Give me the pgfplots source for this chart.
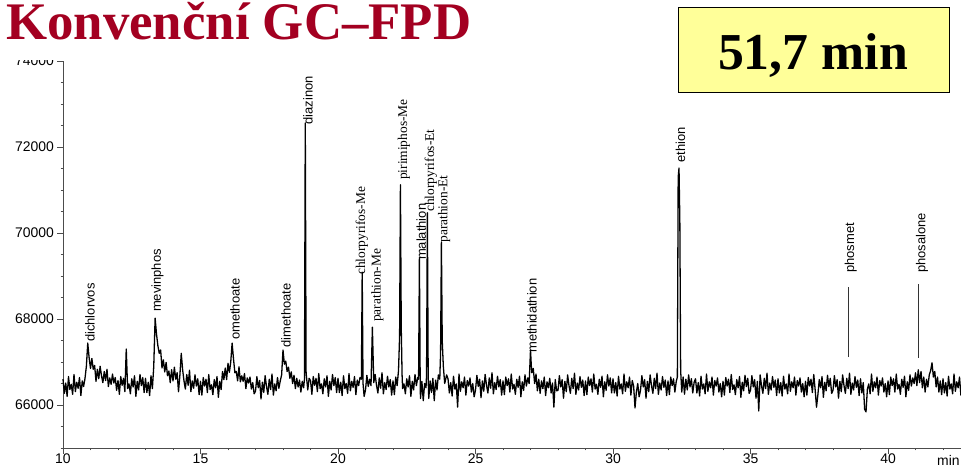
\documentclass[border=0pt]{standalone}
\usepackage{fontspec}
\setmainfont{Liberation Sans}
\newfontfamily\timesfont{Liberation Serif}
\usepackage{pgfplots}
\usepackage{pgfplotstable}
\pgfplotsset{compat=1.18}
\definecolor{titlered}{RGB}{163,0,33}
\definecolor{boxyellow}{RGB}{255,255,153}

% detector signal (time in min, response)
\pgfplotstableread[row sep=\\]{
t s\\
10.00 66600\\ 10.05 66270\\ 10.10 66510\\ 10.15 66200\\ 10.20 66660\\ 10.25 66360\\ 10.30 66480\\ 10.35 66250\\ 10.40 66710\\ 10.45 66310\\
10.50 66530\\ 10.55 66390\\ 10.60 66640\\ 10.65 66220\\ 10.70 66560\\ 10.75 66430\\ 10.80 66620\\ 10.85 66900\\ 10.90 67440\\ 10.95 67100\\
11.00 66850\\ 11.05 67080\\ 11.10 66830\\ 11.15 66920\\ 11.20 66550\\ 11.25 66830\\ 11.30 66610\\ 11.35 66900\\ 11.40 66680\\ 11.45 66520\\
11.50 66780\\ 11.55 66570\\ 11.60 66830\\ 11.65 66430\\ 11.70 66630\\ 11.75 66480\\ 11.80 66720\\ 11.85 66510\\ 11.90 66640\\ 11.95 66340\\
12.00 66570\\ 12.05 66250\\ 12.10 66660\\ 12.15 66460\\ 12.20 66620\\ 12.25 66310\\ 12.30 67300\\ 12.35 66380\\ 12.40 66490\\ 12.45 66260\\
12.50 66610\\ 12.55 66420\\ 12.60 66680\\ 12.65 66200\\ 12.70 66550\\ 12.75 66350\\ 12.80 66710\\ 12.85 66450\\ 12.90 66640\\ 12.95 66290\\
13.00 66620\\ 13.05 66290\\ 13.10 66530\\ 13.15 66220\\ 13.20 66680\\ 13.25 66380\\ 13.30 66900\\ 13.35 68020\\ 13.40 67650\\ 13.45 67380\\
13.50 67200\\ 13.55 67280\\ 13.60 66860\\ 13.65 67050\\ 13.70 66770\\ 13.75 66990\\ 13.80 66680\\ 13.85 66790\\ 13.90 66520\\ 13.95 66820\\
14.00 66560\\ 14.05 66880\\ 14.10 66600\\ 14.15 66750\\ 14.20 66310\\ 14.25 66690\\ 14.30 67200\\ 14.35 66820\\ 14.40 66560\\ 14.45 66370\\
14.50 66710\\ 14.55 66460\\ 14.60 66810\\ 14.65 66310\\ 14.70 66560\\ 14.75 66390\\ 14.80 66700\\ 14.85 66440\\ 14.90 66610\\ 14.95 66240\\
15.00 66550\\ 15.05 66230\\ 15.10 66640\\ 15.15 66440\\ 15.20 66600\\ 15.25 66290\\ 15.30 66710\\ 15.35 66360\\ 15.40 66470\\ 15.45 66240\\
15.50 66590\\ 15.55 66400\\ 15.60 66660\\ 15.65 66180\\ 15.70 66550\\ 15.75 66360\\ 15.80 66780\\ 15.85 66590\\ 15.90 66860\\ 15.95 66590\\
16.00 66970\\ 16.05 66760\\ 16.10 67000\\ 16.15 67440\\ 16.20 67070\\ 16.25 66750\\ 16.30 66780\\ 16.35 66560\\ 16.40 66890\\ 16.45 66540\\
16.50 66680\\ 16.55 66550\\ 16.60 66730\\ 16.65 66380\\ 16.70 66630\\ 16.75 66510\\ 16.80 66650\\ 16.85 66370\\ 16.90 66520\\ 16.95 66260\\
17.00 66320\\ 17.05 66660\\ 17.10 66400\\ 17.15 66570\\ 17.20 66140\\ 17.25 66530\\ 17.30 66290\\ 17.35 66680\\ 17.40 66430\\ 17.45 66250\\
17.50 66600\\ 17.55 66360\\ 17.60 66720\\ 17.65 66230\\ 17.70 66490\\ 17.75 66330\\ 17.80 66640\\ 17.85 66390\\ 17.90 66560\\ 17.95 66700\\
18.00 67280\\ 18.05 66950\\ 18.10 67020\\ 18.15 66780\\ 18.20 66880\\ 18.25 66620\\ 18.30 66770\\ 18.35 66500\\ 18.40 66690\\ 18.45 66380\\
18.50 66620\\ 18.55 66420\\ 18.60 66580\\ 18.65 66300\\ 18.70 66550\\ 18.75 66400\\ 18.78 66600\\ 18.81 72560\\ 18.84 66750\\ 18.90 66350\\ 18.95 66620\\
19.00 66570\\ 19.05 66250\\ 19.10 66660\\ 19.15 66460\\ 19.20 66620\\ 19.25 66310\\ 19.30 66730\\ 19.35 66380\\ 19.40 66490\\ 19.45 66260\\
19.50 66610\\ 19.55 66420\\ 19.60 66680\\ 19.65 66200\\ 19.70 66550\\ 19.75 66350\\ 19.80 66710\\ 19.85 66450\\ 19.90 66640\\ 19.95 66290\\
20.00 66620\\ 20.05 66290\\ 20.10 66530\\ 20.15 66220\\ 20.20 66680\\ 20.25 66380\\ 20.30 66500\\ 20.35 66270\\ 20.40 66730\\ 20.45 66330\\
20.50 66550\\ 20.55 66410\\ 20.60 66660\\ 20.65 66240\\ 20.70 66580\\ 20.75 66450\\ 20.80 66640\\ 20.85 66600\\ 20.88 69090\\ 20.91 66500\\ 20.95 66200\\
21.00 66350\\ 21.05 66690\\ 21.10 66430\\ 21.15 66600\\ 21.20 66450\\ 21.25 67810\\ 21.30 66520\\ 21.35 66710\\ 21.40 66460\\ 21.45 66280\\
21.50 66630\\ 21.55 66390\\ 21.60 66750\\ 21.65 66260\\ 21.70 66520\\ 21.75 66360\\ 21.80 66670\\ 21.85 66420\\ 21.90 66590\\ 21.95 66230\\
22.00 66560\\ 22.05 66240\\ 22.10 66650\\ 22.15 66450\\ 22.20 66800\\ 22.24 67600\\ 22.27 71120\\ 22.30 67800\\ 22.33 66700\\ 22.35 66380\\
22.40 66490\\ 22.45 66260\\ 22.50 66610\\ 22.55 66420\\ 22.60 66680\\ 22.65 66200\\ 22.70 66550\\ 22.75 66350\\ 22.80 66710\\ 22.85 66450\\
22.90 66640\\ 22.93 66600\\ 22.96 69420\\ 22.99 66400\\
23.00 66150\\ 23.05 66550\\ 23.10 66100\\ 23.15 66500\\ 23.20 66400\\ 23.22 66700\\ 23.25 70470\\ 23.28 66600\\ 23.30 66150\\ 23.35 66560\\
23.40 66290\\ 23.45 66620\\ 23.50 66100\\ 23.55 66580\\ 23.60 66350\\ 23.65 66700\\ 23.70 66600\\ 23.73 67200\\ 23.76 69790\\ 23.79 67500\\
23.83 66900\\ 23.88 66500\\ 23.95 66700\\
24.00 66610\\ 24.05 66280\\ 24.10 66520\\ 24.15 66210\\ 24.20 66670\\ 24.25 66370\\ 24.30 66490\\ 24.35 65950\\ 24.40 66720\\ 24.45 66320\\
24.50 66540\\ 24.55 66400\\ 24.60 66650\\ 24.65 66230\\ 24.70 66570\\ 24.75 66440\\ 24.80 66630\\ 24.85 66300\\ 24.90 66500\\ 24.95 66190\\
25.00 66350\\ 25.05 66690\\ 25.10 66430\\ 25.15 66600\\ 25.20 66170\\ 25.25 66560\\ 25.30 66320\\ 25.35 66710\\ 25.40 66460\\ 25.45 66280\\
25.50 66630\\ 25.55 66390\\ 25.60 66750\\ 25.65 66260\\ 25.70 66520\\ 25.75 66360\\ 25.80 66670\\ 25.85 66420\\ 25.90 66590\\ 25.95 66230\\
26.00 66560\\ 26.05 66240\\ 26.10 66650\\ 26.15 66450\\ 26.20 66610\\ 26.25 66300\\ 26.30 66720\\ 26.35 66370\\ 26.40 66480\\ 26.45 66250\\
26.50 66600\\ 26.55 66410\\ 26.60 66670\\ 26.65 66190\\ 26.70 66540\\ 26.75 66340\\ 26.80 66700\\ 26.85 66440\\ 26.90 66630\\ 26.95 66500\\
26.97 66800\\ 27.00 67280\\ 27.03 66900\\ 27.05 66750\\ 27.10 66850\\ 27.15 66500\\ 27.20 66720\\ 27.25 66330\\ 27.30 66600\\ 27.35 66270\\
27.40 66560\\ 27.45 66380\\ 27.50 66650\\ 27.55 66220\\ 27.60 66540\\ 27.65 66400\\ 27.70 66620\\ 27.75 66280\\ 27.80 66510\\ 27.85 65950\\
27.90 66590\\ 27.95 66330\\
28.00 66340\\ 28.05 66680\\ 28.10 66420\\ 28.15 66590\\ 28.20 66160\\ 28.25 66550\\ 28.30 66310\\ 28.35 66700\\ 28.40 66450\\ 28.45 66270\\
28.50 66620\\ 28.55 66380\\ 28.60 66740\\ 28.65 66250\\ 28.70 66510\\ 28.75 66350\\ 28.80 66660\\ 28.85 66410\\ 28.90 66580\\ 28.95 66220\\
29.00 66560\\ 29.05 66240\\ 29.10 66650\\ 29.15 66450\\ 29.20 66610\\ 29.25 66300\\ 29.30 66720\\ 29.35 66370\\ 29.40 66480\\ 29.45 66250\\
29.50 66600\\ 29.55 66410\\ 29.60 66670\\ 29.65 66190\\ 29.70 66540\\ 29.75 66340\\ 29.80 66700\\ 29.85 66440\\ 29.90 66630\\ 29.95 66280\\
30.00 66610\\ 30.05 66280\\ 30.10 66520\\ 30.15 66210\\ 30.20 66670\\ 30.25 66370\\ 30.30 66490\\ 30.35 66260\\ 30.40 66720\\ 30.45 66320\\
30.50 66540\\ 30.55 66400\\ 30.60 66650\\ 30.65 66230\\ 30.70 66570\\ 30.75 66440\\ 30.80 65930\\ 30.85 66300\\ 30.90 66500\\ 30.95 66190\\
31.00 66340\\ 31.05 66680\\ 31.10 66420\\ 31.15 66590\\ 31.20 66160\\ 31.25 66550\\ 31.30 66310\\ 31.35 66700\\ 31.40 66450\\ 31.45 66270\\
31.50 66620\\ 31.55 66380\\ 31.60 66740\\ 31.65 66250\\ 31.70 66510\\ 31.75 66350\\ 31.80 66660\\ 31.85 66410\\ 31.90 66580\\ 31.95 66220\\
32.00 66560\\ 32.05 66240\\ 32.10 66650\\ 32.15 66450\\ 32.20 66610\\ 32.25 66300\\ 32.30 66550\\ 32.34 66650\\ 32.37 71300\\ 32.40 71510\\
32.43 70300\\ 32.46 66800\\ 32.50 66300\\ 32.55 66650\\ 32.60 66250\\ 32.65 66600\\ 32.70 66350\\ 32.75 66700\\ 32.80 66420\\ 32.85 66610\\
32.90 66280\\ 32.95 66530\\
33.00 66610\\ 33.05 66280\\ 33.10 66520\\ 33.15 66210\\ 33.20 66670\\ 33.25 66370\\ 33.30 66490\\ 33.35 66260\\ 33.40 66720\\ 33.45 66320\\
33.50 66540\\ 33.55 66400\\ 33.60 66650\\ 33.65 66230\\ 33.70 66570\\ 33.75 66440\\ 33.80 66630\\ 33.85 66300\\ 33.90 66500\\ 33.95 66190\\
34.00 66550\\ 34.05 66230\\ 34.10 66640\\ 34.15 66440\\ 34.20 66600\\ 34.25 66290\\ 34.30 66710\\ 34.35 66360\\ 34.40 66470\\ 34.45 66240\\
34.50 66590\\ 34.55 66400\\ 34.60 66660\\ 34.65 66180\\ 34.70 66530\\ 34.75 66330\\ 34.80 66690\\ 34.85 66430\\ 34.90 66620\\ 34.95 66270\\
35.00 66340\\ 35.05 66680\\ 35.10 66420\\ 35.15 66590\\ 35.20 66160\\ 35.25 66550\\ 35.30 65860\\ 35.35 66700\\ 35.40 66450\\ 35.45 66270\\
35.50 66620\\ 35.55 66380\\ 35.60 66740\\ 35.65 66250\\ 35.70 66510\\ 35.75 66350\\ 35.80 66660\\ 35.85 66410\\ 35.90 66580\\ 35.95 66220\\
36.00 66610\\ 36.05 66280\\ 36.10 66520\\ 36.15 66210\\ 36.20 66670\\ 36.25 66370\\ 36.30 66490\\ 36.35 66260\\ 36.40 66720\\ 36.45 66320\\
36.50 66540\\ 36.55 66400\\ 36.60 66650\\ 36.65 66230\\ 36.70 66570\\ 36.75 66440\\ 36.80 66630\\ 36.85 66300\\ 36.90 66500\\ 36.95 66190\\
37.00 66550\\ 37.05 66230\\ 37.10 66640\\ 37.15 66440\\ 37.20 66600\\ 37.25 66290\\ 37.30 66710\\ 37.35 66360\\ 37.40 65950\\ 37.45 66240\\
37.50 66590\\ 37.55 66400\\ 37.60 66660\\ 37.65 66180\\ 37.70 66530\\ 37.75 66330\\ 37.80 66690\\ 37.85 66430\\ 37.90 66620\\ 37.95 66270\\
38.00 66340\\ 38.05 66680\\ 38.10 66420\\ 38.15 66590\\ 38.20 66160\\ 38.25 66550\\ 38.30 66310\\ 38.35 66700\\ 38.40 66450\\ 38.45 66270\\
38.50 66620\\ 38.55 66380\\ 38.60 66740\\ 38.65 66250\\ 38.70 66510\\ 38.75 66350\\ 38.80 66660\\ 38.85 66410\\ 38.90 66580\\ 38.95 66220\\
39.00 66610\\ 39.05 66280\\ 39.10 66520\\ 39.15 65900\\ 39.20 65840\\ 39.25 66370\\ 39.30 66490\\ 39.35 66260\\ 39.40 66720\\ 39.45 66320\\
39.50 66540\\ 39.55 66400\\ 39.60 66650\\ 39.65 66230\\ 39.70 66570\\ 39.75 66440\\ 39.80 66630\\ 39.85 66300\\ 39.90 66500\\ 39.95 66190\\
40.00 66560\\ 40.05 66240\\ 40.10 66650\\ 40.15 66450\\ 40.20 66610\\ 40.25 66300\\ 40.30 66720\\ 40.35 66370\\ 40.40 66480\\ 40.45 66250\\
40.50 66600\\ 40.55 66410\\ 40.60 66670\\ 40.65 66190\\ 40.70 66540\\ 40.75 66340\\ 40.80 66700\\ 40.85 66440\\ 40.90 66630\\ 40.95 66500\\
41.00 66750\\ 41.05 66450\\ 41.10 66820\\ 41.15 66520\\ 41.20 66780\\ 41.25 66400\\ 41.30 66650\\ 41.35 66300\\ 41.40 66600\\ 41.45 66420\\
41.50 66700\\ 41.55 66800\\ 41.60 66980\\ 41.65 66650\\ 41.70 66780\\ 41.75 66420\\ 41.80 66650\\ 41.85 66300\\ 41.90 66560\\ 41.95 66240\\
42.00 66610\\ 42.05 66280\\ 42.10 66520\\ 42.15 66210\\ 42.20 66670\\ 42.25 66370\\ 42.30 66490\\ 42.35 66260\\ 42.40 66720\\ 42.45 66320\\
42.50 66540\\ 42.55 66400\\ 42.60 66650\\ 42.65 66230\\ 42.70 66570\\
}\chromdata

\begin{document}
\begin{tikzpicture}[x=1bp,y=1bp,
  pk/.style={rotate=90, anchor=west, inner sep=0pt, font=\fontsize{13}{13}\selectfont},
  pks/.style={pk, font=\timesfont\fontsize{13.5}{13.5}\selectfont}]
\useasboundingbox (0,0) rectangle (961,468);
\begin{axis}[
  scale only axis, width=907.5bp, height=387bp,
  at={(63bp,20bp)}, anchor=south west,
  xmin=10, xmax=43, ymin=65000, ymax=74000,
  axis x line=bottom, axis y line=left,
  axis line style={-, black!70, line width=0.8pt},
  xtick={10,15,...,40}, minor xtick={11,12,...,42},
  ytick={66000,68000,70000,72000,74000},
  minor ytick={65000,65500,...,74000},
  tick align=outside, major tick length=6bp, minor tick length=2.5bp,
  every tick/.style={black!70, line width=0.6pt},
  tick label style={font=\fontsize{14}{14}\selectfont, inner sep=0pt},
  /pgf/number format/assume math mode=true,
  scaled y ticks=false,
  yticklabel style={/pgf/number format/1000 sep={}, xshift=-3bp},
  clip=false,
]
\addplot[black, line width=1.3pt, line join=round] table[x=t, y=s] {\chromdata};
% marker lines for expected retention times
\addplot[black!80, line width=0.6pt] coordinates {(38.56,67116) (38.56,68744)};
\addplot[black!80, line width=0.6pt] coordinates {(41.11,67093) (41.11,68814)};

\node[pk]  at (axis cs:10.98,67465) {dichlorvos};
\node[pk]  at (axis cs:13.44,68160) {mevinphos};
\node[pk]  at (axis cs:16.25,67510) {omethoate};
\node[pk]  at (axis cs:18.11,67330) {dimethoate};
\node[pk]  at (axis cs:18.91,72520) {diazinon};
\node[pks] at (axis cs:20.87,69020) {chlorpyrifos-Me};
\node[pks] at (axis cs:21.43,67930) {parathion-Me};
\node[pks] at (axis cs:22.40,71230) {pirimiphos-Me};
\node[pk]  at (axis cs:23.03,69370) {malathion};
\node[pks] at (axis cs:23.38,70490) {chlorpyrifos-Et};
\node[pks] at (axis cs:23.86,69770) {parathion-Et};
\node[pk]  at (axis cs:27.05,67210) {methidathion};
\node[pk]  at (axis cs:32.45,71630) {ethion};
\node[pk]  at (axis cs:38.65,69070) {phosmet};
\node[pk]  at (axis cs:41.24,69070) {phosalone};
\end{axis}
% axis unit
\node[anchor=base west, inner sep=0pt, font=\fontsize{14}{14}\selectfont] at (937,2) {min};
% title band
\fill[white] (0,407.5) rectangle (660,468);
\node[anchor=base west, inner sep=0pt, text=titlered,
      font=\timesfont\bfseries\fontsize{53}{53}\selectfont] at (6,428) {Konvenční GC–FPD};
% run time box
\draw[line width=1.6bp, fill=boxyellow] (678.5,375.5) rectangle (949.5,460.5);
\node[anchor=base, inner sep=0pt, font=\timesfont\bfseries\fontsize{52}{52}\selectfont] at (813,398) {51,7 min};
\end{tikzpicture}
\end{document}
